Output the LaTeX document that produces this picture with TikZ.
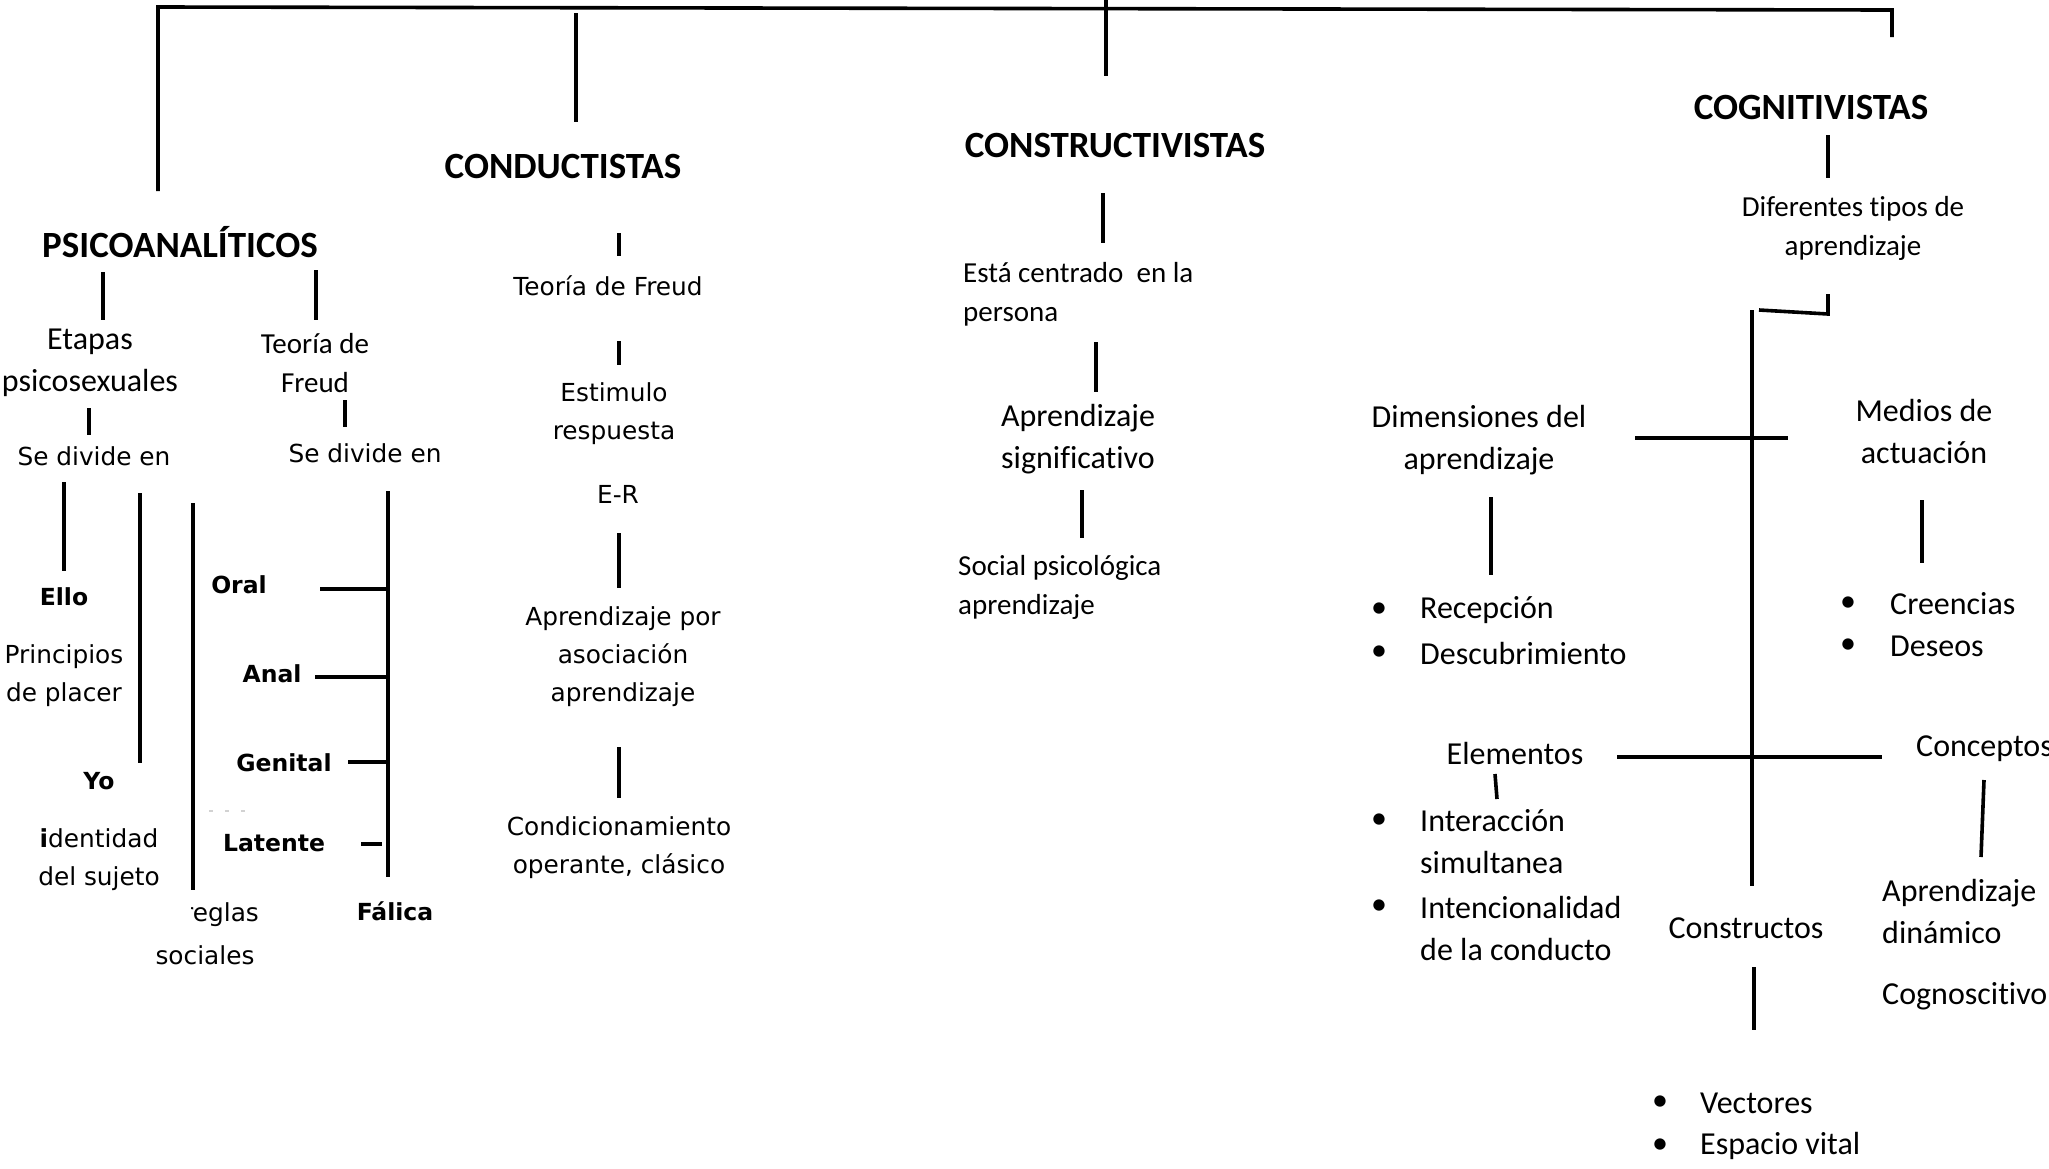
\documentclass[tikz,border=0pt]{standalone}
\usepackage{fontspec}
\setmainfont{Carlito}[Ligatures={NoCommon,NoContextual},Contextuals=NoAlternate]
\newfontfamily\vfont{DejaVu Sans}
\begin{document}
\begin{tikzpicture}[x=1pt,y=-1pt,
  ln/.style={line width=3.6pt},
  hdr/.style={font=\fontsize{37}{44}\selectfont\bfseries, inner sep=0pt},
  cb/.style={font=\fontsize{32}{42}\selectfont, inner sep=0pt, align=center},
  cbl/.style={font=\fontsize{32}{42}\selectfont, inner sep=0pt, align=left, anchor=west},
  cs/.style={font=\fontsize{29}{39}\selectfont, inner sep=0pt, align=center},
  csl/.style={font=\fontsize{29}{39}\selectfont, inner sep=0pt, align=left, anchor=west},
  vv/.style={font=\vfont\fontsize{24.8}{38}\selectfont, inner sep=0pt, align=center},
  vb/.style={font=\vfont\bfseries\fontsize{23.5}{30}\selectfont, inner sep=0pt},
  bul/.style={font=\fontsize{32}{42}\selectfont, inner sep=0pt},
]
\fill[white] (0,0) rectangle (2049,1168);
\useasboundingbox (0,0) rectangle (2049,1168);

% ---------- top bar ----------
\coordinate (tL) at (158,7);
\coordinate (tR) at (1892,10);
\coordinate (pA) at (158,191);
\coordinate (cA) at (576,13);  \coordinate (cB) at (576,122);
\coordinate (kA) at (1106,0);  \coordinate (kB) at (1106,76);
\coordinate (gA) at (1892,37);
\draw[ln] (pA) -- (tL) -- (tR) -- (gA);
\draw[ln] (cA) -- (cB);
\draw[ln] (kA) -- (kB);

% ---------- headers ----------
\node[hdr] (psi)  at (180,242) {PSICOANALÍTICOS};
\node[hdr] (cond) at (563,166) {CONDUCTISTAS};
\node[hdr] (cons) at (1115,145) {CONSTRUCTIVISTAS};
\node[hdr] (cog)  at (1811,107) {COGNITIVISTAS};

% ---------- psicoanaliticos ----------
\draw[ln] (103,272) -- (103,320);
\draw[ln] (316,270) -- (316,320);
\node[cb] (etapas) at (90,363) {Etapas\\psicosexuales};
\node[cs] (teoL) at (315,363) {Teoría de\\Freud};
\draw[ln] (89,408) -- (89,435);
\draw[ln] (345,400) -- (345,427);
\node[vv] (sdL) at (94,456) {Se divide en};
\node[vv] (sdR) at (365,453) {Se divide en};
\draw[ln] (64,482) -- (64,571);
\draw[ln] (140,493) -- (140,763);
\draw[ln] (193,503) -- (193,890);
\draw[ln] (388,491) -- (388,877);
\draw[ln] (320,589) -- (388,589);
\draw[ln] (315,677) -- (388,677);
\draw[ln] (348,762) -- (388,762);
\draw[ln] (361,844) -- (382,844);
\node[vb] (ello) at (64,597) {Ello};
\node[vv] (princ) at (64,676) {Principios\\de placer};
\node[vb] (yo) at (99,781) {Yo};
\node[vv] (ident) at (99,860) {\textbf{i}dentidad\\del sujeto};
\node[vv, anchor=west] (reglas) at (183,915) {reglas};
\node[vv] (sociales) at (205,955) {sociales};
\fill[white] (176,895) rectangle (191,930);
\node[vb] (oral) at (239,585) {Oral};
\node[vb] (anal) at (272,674) {Anal};
\node[vb] (genital) at (284,763) {Genital};
\node[vb] (latente) at (274,843) {Latente};
\node[vb] (falica) at (395,911) {Fálica};
\draw[gray!35, line width=1.2pt, dash pattern=on 4pt off 12pt] (209,811) -- (255,811);

% ---------- conductistas ----------
\draw[ln] (619,233) -- (619,256);
\node[vv] (teoC) at (608,286) {Teoría de Freud};
\draw[ln] (619,341) -- (619,365);
\node[vv] (estim) at (614,414) {Estimulo\\respuesta};
\node[vv] (er) at (618,494) {E-R};
\draw[ln] (619,533) -- (619,588);
\node[vv] (apas) at (623,657) {Aprendizaje por\\asociación\\aprendizaje};
\draw[ln] (619,747) -- (619,798);
\node[vv] (condic) at (619,848) {Condicionamiento\\operante, clásico};

% ---------- constructivistas ----------
\draw[ln] (1103,193) -- (1103,243);
\node[csl] (centrado) at (963,294) {Está centrado\ \ en la\\persona};
\draw[ln] (1096,342) -- (1096,392);
\node[cb] (signif) at (1078,439) {Aprendizaje\\significativo};
\draw[ln] (1082,490) -- (1082,538);
\node[csl] (social) at (958,587) {Social psicológica\\aprendizaje};

% ---------- cognitivistas ----------
\draw[ln] (1828,135) -- (1828,178);
\node[cs] (difer) at (1853,228) {Diferentes tipos de\\aprendizaje};
\draw[ln] (1828,294) -- (1828,314) -- (1759,310);
\draw[ln] (1752,310) -- (1752,886);
\draw[ln] (1635,438) -- (1788,438);
\draw[ln] (1617,757) -- (1882,757);

\node[cb] (dimen) at (1479,440) {Dimensiones del\\aprendizaje};
\draw[ln] (1491,497) -- (1491,575);
\node[bul] (b1) at (1379,610) {•};
\node[cbl] (recep) at (1420,610) {Recepción};
\node[bul] (b2) at (1379,653) {•};
\node[cbl] (descu) at (1420,653) {Descubrimiento};

\node[cb] (medios) at (1924,431) {Medios de\\actuación};
\draw[ln] (1922,500) -- (1922,563);
\node[bul] (b3) at (1848,604) {•};
\node[cbl] (creen) at (1890,604) {Creencias};
\node[bul] (b4) at (1848,646) {•};
\node[cbl] (deseos) at (1890,646) {Deseos};

\node[cb] (elem) at (1515,753) {Elementos};
\draw[ln] (1495,774) -- (1497,799);
\node[bul] (b5) at (1379,821) {•};
\node[cbl] (inter) at (1420,842) {Interacción\\simultanea};
\node[bul] (b6) at (1379,907) {•};
\node[cbl] (inten) at (1420,928) {Intencionalidad\\de la conducto};

\node[cb] (constr) at (1746,928) {Constructos};
\draw[ln] (1754,967) -- (1754,1030);
\node[bul] (b7) at (1660,1103) {•};
\node[cbl] (vect) at (1700,1103) {Vectores};
\node[bul] (b8) at (1660,1146) {•};
\node[cbl] (espa) at (1700,1146) {Espacio vital};

\node[cbl] (concep) at (1916,749) {Conceptos};
\draw[ln] (1984,780) -- (1981,857);
\node[cbl] (dinam) at (1882,911) {Aprendizaje\\dinámico};
\node[cbl] (cognos) at (1882,996) {Cognoscitivo};
\end{tikzpicture}
\end{document}
